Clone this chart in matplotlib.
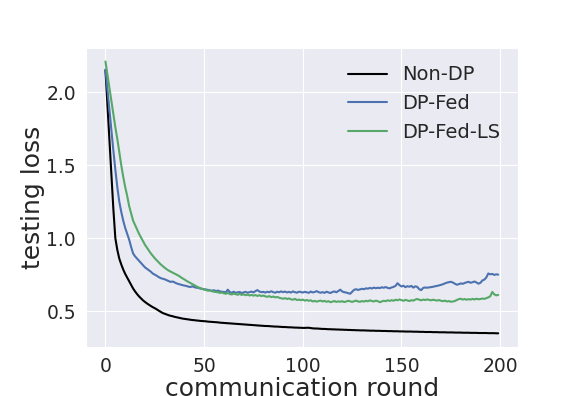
"""Testing loss vs communication round (Non-DP / DP-Fed / DP-Fed-LS)."""

import matplotlib
matplotlib.use("Agg")
import matplotlib.pyplot as plt
import numpy as np
import seaborn as sns

sns.set_style("darkgrid")
plt.rcParams["font.family"] = ["DejaVu Sans"]

non_dp = [
    2.15, 1.91, 1.67, 1.43, 1.20, 1.00, 0.92, 0.86, 0.82, 0.785,
    0.755, 0.73, 0.705, 0.68, 0.655, 0.635, 0.617, 0.601, 0.587, 0.574,
    0.563, 0.553, 0.544, 0.535, 0.527, 0.52, 0.512, 0.503, 0.495, 0.487,
    0.482, 0.477, 0.472, 0.468, 0.465, 0.461, 0.458, 0.455, 0.452, 0.449,
    0.447, 0.445, 0.443, 0.441, 0.439, 0.438, 0.436, 0.435, 0.433, 0.432,
    0.431, 0.43, 0.428, 0.427, 0.426, 0.425, 0.424, 0.423, 0.421, 0.42,
    0.419, 0.418, 0.417, 0.416, 0.415, 0.414, 0.413, 0.412, 0.411, 0.41,
    0.409, 0.408, 0.407, 0.406, 0.405, 0.404, 0.403, 0.402, 0.401, 0.40,
    0.399, 0.398, 0.398, 0.397, 0.396, 0.395, 0.394, 0.394, 0.393, 0.392,
    0.391, 0.391, 0.39, 0.389, 0.389, 0.388, 0.387, 0.387, 0.386, 0.386,
    0.385, 0.385, 0.386, 0.386, 0.384, 0.382, 0.381, 0.381, 0.38, 0.379,
    0.378, 0.378, 0.377, 0.376, 0.376, 0.375, 0.375, 0.374, 0.374, 0.373,
    0.373, 0.372, 0.372, 0.371, 0.371, 0.37, 0.37, 0.369, 0.369, 0.368,
    0.368, 0.368, 0.367, 0.367, 0.366, 0.366, 0.366, 0.365, 0.365, 0.365,
    0.364, 0.364, 0.364, 0.363, 0.363, 0.363, 0.362, 0.362, 0.362, 0.361,
    0.361, 0.361, 0.36, 0.36, 0.36, 0.36, 0.359, 0.359, 0.359, 0.358,
    0.358, 0.358, 0.357, 0.357, 0.357, 0.357, 0.356, 0.356, 0.356, 0.355,
    0.355, 0.355, 0.355, 0.354, 0.354, 0.354, 0.354, 0.353, 0.353, 0.353,
    0.353, 0.352, 0.352, 0.352, 0.352, 0.351, 0.351, 0.351, 0.351, 0.35,
    0.35, 0.35, 0.35, 0.35, 0.349, 0.349, 0.349, 0.349, 0.348, 0.348,
]

dp_fed = [
    2.155, 2.02, 1.88, 1.74, 1.60, 1.47, 1.35, 1.25, 1.18, 1.12,
    1.07, 1.03, 0.99, 0.94, 0.895, 0.875, 0.86, 0.845, 0.83, 0.815,
    0.80, 0.79, 0.78, 0.77, 0.757, 0.75, 0.742, 0.733, 0.726, 0.722,
    0.718, 0.712, 0.706, 0.70, 0.703, 0.697, 0.69, 0.686, 0.682, 0.678,
    0.675, 0.672, 0.668, 0.665, 0.67, 0.664, 0.661, 0.659, 0.655, 0.652,
    0.65, 0.648, 0.645, 0.642, 0.64, 0.643, 0.637, 0.641, 0.635, 0.633,
    0.631, 0.629, 0.647, 0.63, 0.626, 0.633, 0.625, 0.629, 0.631, 0.624,
    0.628, 0.632, 0.626, 0.63, 0.634, 0.628, 0.637, 0.644, 0.634, 0.63,
    0.632, 0.627, 0.633, 0.629, 0.636, 0.63, 0.626, 0.633, 0.629, 0.635,
    0.63, 0.634, 0.628, 0.632, 0.627, 0.635, 0.63, 0.626, 0.633, 0.631,
    0.627, 0.632, 0.629, 0.625, 0.634, 0.628, 0.631, 0.637, 0.63, 0.626,
    0.63, 0.625, 0.633, 0.628, 0.624, 0.631, 0.635, 0.629, 0.638, 0.647,
    0.634, 0.63, 0.627, 0.623, 0.619, 0.633, 0.646, 0.65, 0.645, 0.649,
    0.653, 0.65, 0.656, 0.654, 0.659, 0.655, 0.661, 0.657, 0.66, 0.658,
    0.663, 0.66, 0.665, 0.659, 0.656, 0.662, 0.666, 0.673, 0.691, 0.678,
    0.669, 0.674, 0.664, 0.671, 0.667, 0.673, 0.661, 0.67, 0.666, 0.65,
    0.644, 0.659, 0.662, 0.66, 0.663, 0.664, 0.667, 0.67, 0.673, 0.676,
    0.68, 0.684, 0.69, 0.695, 0.698, 0.701, 0.696, 0.688, 0.681, 0.684,
    0.69, 0.687, 0.693, 0.697, 0.701, 0.694, 0.698, 0.703, 0.696, 0.688,
    0.694, 0.71, 0.716, 0.731, 0.758, 0.752, 0.755, 0.748, 0.752, 0.75,
]

dp_fed_ls = [
    2.21, 2.12, 2.03, 1.94, 1.85, 1.76, 1.68, 1.59, 1.50, 1.42,
    1.35, 1.29, 1.22, 1.17, 1.12, 1.09, 1.06, 1.03, 1.005, 0.98,
    0.955, 0.935, 0.915, 0.895, 0.878, 0.862, 0.848, 0.834, 0.82, 0.808,
    0.797, 0.787, 0.778, 0.771, 0.764, 0.757, 0.75, 0.743, 0.734, 0.725,
    0.717, 0.708, 0.70, 0.693, 0.685, 0.678, 0.67, 0.663, 0.658, 0.653,
    0.648, 0.644, 0.64, 0.642, 0.636, 0.633, 0.631, 0.629, 0.625, 0.627,
    0.622, 0.619, 0.624, 0.617, 0.614, 0.62, 0.616, 0.612, 0.618, 0.611,
    0.615, 0.609, 0.613, 0.607, 0.611, 0.606, 0.61, 0.604, 0.609, 0.603,
    0.607, 0.601, 0.598, 0.603, 0.596, 0.6, 0.594, 0.597, 0.592, 0.588,
    0.585, 0.589, 0.583, 0.587, 0.581, 0.578, 0.584, 0.576, 0.579, 0.575,
    0.579, 0.572, 0.576, 0.571, 0.574, 0.566, 0.57, 0.565, 0.569, 0.572,
    0.566, 0.57, 0.564, 0.568, 0.561, 0.565, 0.569, 0.563, 0.567, 0.564,
    0.568, 0.562, 0.566, 0.571, 0.567, 0.563, 0.568, 0.572, 0.566, 0.564,
    0.569, 0.565, 0.571, 0.567, 0.574, 0.569, 0.566, 0.572, 0.568, 0.561,
    0.566, 0.571, 0.568, 0.574, 0.57, 0.575, 0.571, 0.578, 0.574, 0.58,
    0.575, 0.571, 0.577, 0.573, 0.569, 0.575, 0.572, 0.579, 0.583, 0.578,
    0.574, 0.579, 0.576, 0.58, 0.577, 0.574, 0.578, 0.575, 0.572, 0.576,
    0.571, 0.568, 0.572, 0.566, 0.569, 0.564, 0.566, 0.569, 0.576, 0.582,
    0.585, 0.579, 0.583, 0.578, 0.582, 0.579, 0.584, 0.58, 0.585, 0.581,
    0.583, 0.586, 0.584, 0.589, 0.594, 0.602, 0.631, 0.615, 0.608, 0.611,
]

rounds = np.arange(len(non_dp))

fig, ax = plt.subplots(figsize=(5.76, 3.96), dpi=100)
fig.subplots_adjust(left=0.149, right=0.899, bottom=0.124, top=0.879)

ax.plot(rounds, non_dp, color="black", label="Non-DP")
ax.plot(rounds, dp_fed, color="#4c72b0", label="DP-Fed")
ax.plot(rounds, dp_fed_ls, color="#55a868", label="DP-Fed-LS")

ax.set_xlabel("communication round", fontsize=18, labelpad=1)
ax.set_ylabel("testing loss", fontsize=18, labelpad=1)
ax.tick_params(axis="both", labelsize=13.5)
ax.legend(loc="upper right", fontsize=14, frameon=False)

fig.savefig("out.png", dpi=100)
